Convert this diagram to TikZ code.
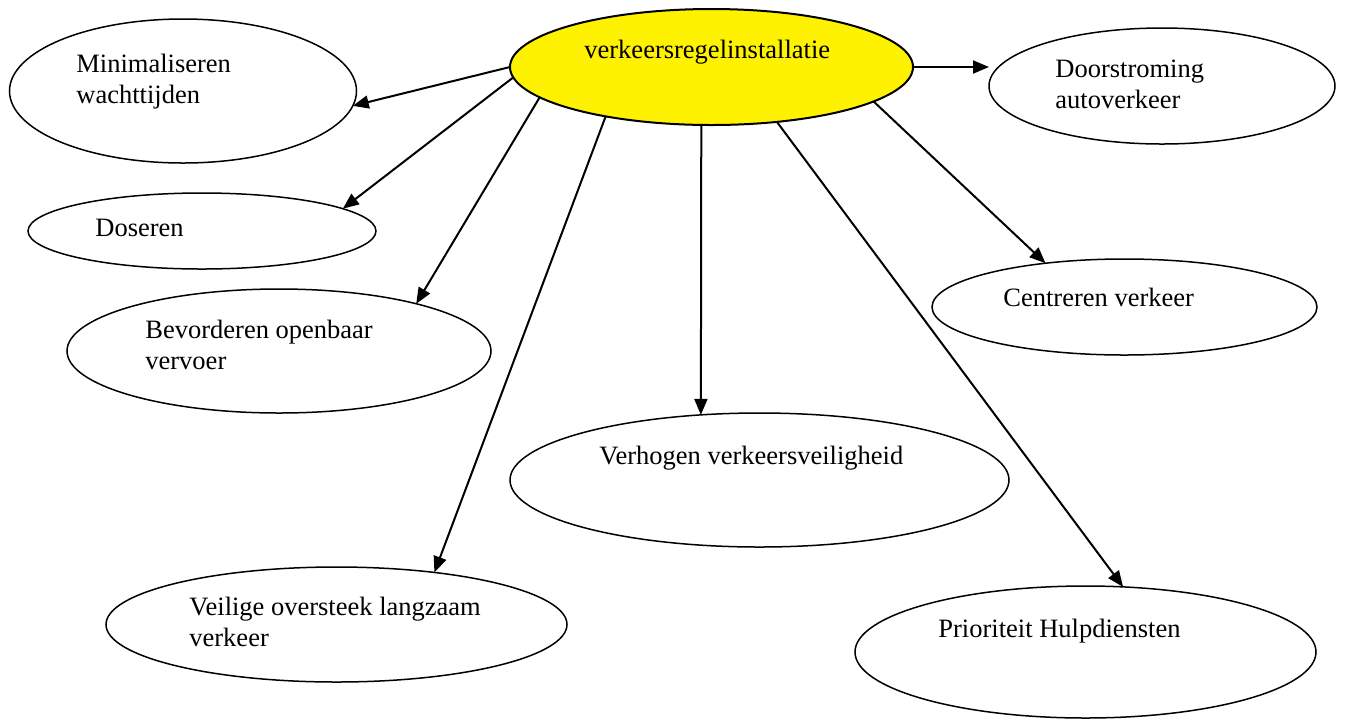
\documentclass[tikz,border=0pt]{standalone}
\usepackage{fontspec}
\setmainfont{Liberation Serif}
\usetikzlibrary{shapes.geometric, arrows.meta}
\tikzstyle{doel} = [draw,ellipse,line width=0.75pt,inner sep=0pt,outer sep=0pt,fill=white]
\tikzstyle{tekst} = [anchor=base west,align=left,inner sep=0pt,font=\fontsize{13.25}{15.5}\selectfont]
\tikzstyle{pijl} = [-{Triangle[length=8pt,width=6.5pt]},line width=1pt]

\begin{document}
\begin{tikzpicture}[x=0.5pt,y=-0.5pt]
		\useasboundingbox (0,0) rectangle (1346,720);

		\node[doel,fill=yellow,line width=1pt,minimum width=201.5pt,minimum height=58pt] (vri) at (711.5,67) {};
		\node[doel,minimum width=173.5pt,minimum height=72pt] (mini) at (183,91) {};
		\node[doel,minimum width=174pt,minimum height=38pt] (dos) at (202,231) {};
		\node[doel,minimum width=212pt,minimum height=62pt] (bev) at (279,351) {};
		\node[doel,minimum width=230.5pt,minimum height=57.5pt] (veil) at (336.5,624.5) {};
		\node[doel,minimum width=249.5pt,minimum height=67pt] (verh) at (759.5,480) {};
		\node[doel,minimum width=230.5pt,minimum height=66pt] (prio) at (1085.5,652) {};
		\node[doel,minimum width=192.5pt,minimum height=48pt] (cent) at (1124.5,307) {};
		\node[doel,minimum width=173pt,minimum height=58pt] (door) at (1162,86) {};

		% base = baseline of the last line
		\node[tekst] (vri-t) at (584,58) {verkeersregelinstallatie};
		\node[tekst] (mini-t) at (76,103) {Minimaliseren\\wachttijden};
		\node[tekst] (dos-t) at (95,236) {Doseren};
		\node[tekst] (bev-t) at (145,369) {Bevorderen openbaar\\vervoer};
		\node[tekst] (veil-t) at (189,646) {Veilige oversteek langzaam\\verkeer};
		\node[tekst] (verh-t) at (599,464) {Verhogen verkeersveiligheid};
		\node[tekst] (prio-t) at (938,637) {Prioriteit Hulpdiensten};
		\node[tekst] (cent-t) at (1003,306) {Centreren verkeer};
		\node[tekst] (door-t) at (1055,108) {Doorstroming\\autoverkeer};

		\draw[pijl] (vri.180) -- (mini.355);
		\draw[pijl] (vri.183) -- (dos.9);
		\draw[pijl] (vri.190) -- (bev.19);
		\draw[pijl] (vri.205) -- (veil.28);
		\draw[pijl] (vri.260) -- (verh.132);
		\draw[pijl] (vri.320) -- (prio.60);
		\draw[pijl] (vri.348) -- (cent.151);
		\draw[pijl] (vri.east) -- (vri.east -| door.west);
	\end{tikzpicture}
\end{document}
